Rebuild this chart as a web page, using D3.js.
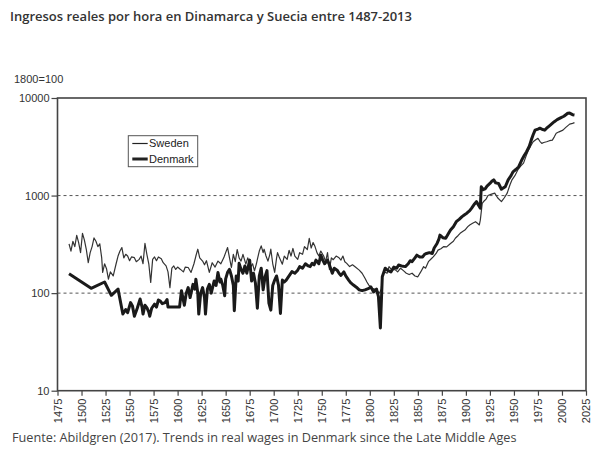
<!DOCTYPE html>
<html>
<head>
<meta charset="utf-8">
<script src="https://cdn.jsdelivr.net/npm/d3@7"></script>
<style>
  html, body { margin: 0; padding: 0; background: #fff; }
  svg { display: block; }
</style>
</head>
<body>
<svg id="chart" width="604" height="451"></svg>
<script>
// ---------- data ----------
const titleText = "Ingresos reales por hora en Dinamarca y Suecia entre 1487-2013";
const sourceText = "Fuente: Abildgren (2017). Trends in real wages in Denmark since the Late Middle Ages";
const unitLabel = "1800=100";
const seriesNames = ["Sweden", "Denmark"];
const yTicks = [10, 100, 1000, 10000];
const xTicks = [1475,1500,1525,1550,1575,1600,1625,1650,1675,1700,1725,1750,1775,1800,1825,1850,1875,1900,1925,1950,1975,2000,2025];

const swedenYears = [1487,1489,1491,1493,1495,1497,1499,1501,1503,1505,1507,1509,1511,1513,1515,1517,1519,1521,1522,1524,1526,1528,1530,1533,1536,1538,1540,1542,1544,1546,1548,1550,1552,1555,1557,1560,1562,1564,1566,1568,1570,1572,1574,1576,1578,1580,1583,1585,1588,1590,1592,1594,1596,1598,1600,1603,1606,1608,1611,1614,1617,1619,1621,1623,1626,1628,1630,1633,1636,1639,1642,1645,1648,1650,1652,1654,1656,1658,1660,1662,1664,1666,1668,1671,1673,1676,1678,1680,1682,1683,1685,1687,1689,1690,1692,1694,1696,1697,1699,1701,1703,1704,1706,1709,1711,1714,1716,1718,1720,1722,1725,1727,1730,1732,1735,1737,1739,1741,1743,1745,1747,1749,1752,1754,1756,1758,1760,1762,1765,1768,1770,1772,1774,1776,1779,1782,1785,1789,1792,1795,1797,1799,1802,1805,1808,1810,1812,1813,1815,1818,1820,1823,1826,1829,1832,1835,1838,1841,1844,1847,1850,1853,1856,1858,1861,1864,1866,1869,1871,1874,1877,1880,1884,1887,1889,1892,1894,1897,1899,1902,1904,1907,1910,1912,1914,1915,1917,1919,1921,1923,1926,1930,1933,1937,1940,1943,1946,1948,1951,1954,1957,1960,1963,1965,1968,1970,1973,1975,1977,1979,1981,1984,1987,1990,1992,1994,1997,2001,2004,2008,2011,2013];
const swedenValues = [320,270,340,300,390,330,260,410,350,280,205,260,300,368,340,300,320,230,163,200,178,139,165,150,200,240,270,293,230,250,240,215,235,231,210,222,240,200,323,250,200,129,222,235,215,235,225,205,190,165,114,180,190,175,185,175,165,185,183,163,200,240,282,230,213,195,215,163,205,185,213,200,230,260,293,230,183,250,210,280,230,213,250,198,230,185,200,169,200,222,270,305,260,282,240,213,250,282,200,163,230,260,230,198,240,222,275,240,287,240,222,260,250,300,280,365,290,330,300,260,240,270,240,210,260,175,230,220,240,230,218,240,210,202,187,195,185,172,160,142,130,121,112,110,105,100,110,150,165,160,187,172,175,165,180,170,160,155,160,150,147,165,187,180,210,225,235,255,276,285,300,298,323,340,365,390,410,430,443,480,500,520,540,520,500,560,830,880,920,1000,1030,1060,950,868,950,1060,1300,1450,1600,1830,2000,2150,2600,2900,3300,3560,3750,3860,3600,3430,3500,3560,3650,3700,4000,4350,4500,4680,5000,5400,5500,5600];

const denmarkYears = [1487,1510,1524,1531,1538,1543,1546,1548,1551,1553,1555,1558,1561,1563,1564,1566,1568,1570,1571,1573,1576,1578,1580,1582,1584,1587,1589,1590,1602,1604,1607,1609,1611,1613,1616,1618,1619,1621,1622,1624,1626,1628,1629,1631,1633,1635,1638,1640,1642,1644,1645,1647,1649,1650,1652,1654,1656,1658,1659,1661,1663,1664,1666,1668,1670,1672,1675,1677,1679,1681,1683,1685,1687,1689,1691,1693,1695,1697,1699,1701,1703,1705,1707,1709,1711,1713,1716,1719,1722,1725,1727,1730,1733,1736,1738,1740,1742,1744,1747,1749,1751,1753,1756,1758,1761,1763,1766,1768,1770,1773,1775,1778,1780,1783,1786,1789,1792,1795,1799,1801,1804,1807,1809,1811,1813,1816,1819,1822,1825,1828,1830,1833,1837,1840,1842,1844,1847,1849,1852,1855,1857,1859,1862,1865,1867,1870,1872,1873,1876,1879,1882,1884,1887,1890,1893,1896,1899,1901,1904,1906,1909,1911,1913,1915,1916,1918,1920,1922,1925,1927,1929,1931,1934,1937,1939,1941,1944,1947,1949,1952,1955,1958,1961,1963,1966,1968,1970,1972,1975,1977,1980,1982,1984,1986,1989,1992,1995,1999,2002,2006,2008,2011,2013];
const denmarkValues = [158,112,130,95,110,61,68,63,80,74,58,70,87,72,61,75,71,64,58,70,77,72,85,83,78,80,86,72,72,106,75,100,114,90,123,110,139,100,61,100,114,90,61,110,123,100,133,120,163,130,139,120,94,140,163,175,150,120,66,150,133,202,175,160,190,160,218,133,160,126,70,150,180,108,147,170,79,67,120,136,150,120,62,136,130,136,150,166,160,172,187,180,200,190,187,202,195,218,200,245,218,200,218,194,160,180,172,160,152,165,150,136,128,121,115,108,106,108,112,116,103,110,92,44,147,180,170,165,185,180,194,190,187,200,215,210,230,245,235,235,250,255,260,255,290,323,360,393,370,365,410,443,480,540,570,608,640,659,700,743,820,868,800,743,1232,1150,1170,1250,1330,1400,1450,1350,1330,1160,1200,1232,1450,1600,1750,1850,1975,2300,2600,2800,3200,3700,4200,4680,4800,4900,4750,4680,4900,5100,5400,5720,6000,6300,6500,6970,7000,6750,6700];

// ---------- layout ----------
const svg = d3.select("#chart");
const plot = { left: 57.5, right: 586, top: 98, bottom: 390.7 };

const x = d3.scaleLinear().domain([1475, 2025]).range([plot.left, plot.right]);
const y = d3.scaleLog().domain([10, 10000]).range([plot.bottom, plot.top]);

// title
svg.append("text")
  .attr("x", 10).attr("y", 21)
  .attr("font-family", "'Open Sans', sans-serif")
  .attr("font-weight", 600)
  .attr("font-size", 13)
  .attr("fill", "#333")
  .text(titleText);

// unit label
svg.append("text")
  .attr("x", 14).attr("y", 83)
  .attr("font-family", "'Liberation Sans', Arial, sans-serif")
  .attr("font-size", 11)
  .attr("fill", "#333")
  .text(unitLabel);

// dashed reference lines
svg.append("g").selectAll("line")
  .data([100, 1000])
  .join("line")
  .attr("x1", plot.left).attr("x2", plot.right)
  .attr("y1", d => y(d)).attr("y2", d => y(d))
  .attr("stroke", "#555")
  .attr("stroke-width", 1)
  .attr("stroke-dasharray", "3,3");

// series lines
const line = d3.line().x(d => x(d[0])).y(d => y(d[1]));
const sweden = swedenYears.map((yr, i) => [yr, swedenValues[i]]);
const denmark = denmarkYears.map((yr, i) => [yr, denmarkValues[i]]);

svg.append("path")
  .datum(sweden)
  .attr("d", line)
  .attr("fill", "none")
  .attr("stroke", "#333")
  .attr("stroke-width", 1.2)
  .attr("stroke-linejoin", "round");

svg.append("path")
  .datum(denmark)
  .attr("d", line)
  .attr("fill", "none")
  .attr("stroke", "#1a1a1a")
  .attr("stroke-width", 3)
  .attr("stroke-linejoin", "round");

// frame
svg.append("rect")
  .attr("x", plot.left).attr("y", plot.top)
  .attr("width", plot.right - plot.left)
  .attr("height", plot.bottom - plot.top)
  .attr("fill", "none")
  .attr("stroke", "#444")
  .attr("stroke-width", 1.6);

// axes
const yAxis = d3.axisLeft(y).tickValues(yTicks).tickFormat(d3.format("d")).tickSize(6).tickPadding(2);
const gy = svg.append("g").attr("transform", `translate(${plot.left},0)`).call(yAxis);
gy.select(".domain").remove();
gy.selectAll("line").attr("stroke", "#444").attr("stroke-width", 1.2);
gy.selectAll("text")
  .attr("font-family", "'Liberation Sans', Arial, sans-serif")
  .attr("font-size", 11).attr("fill", "#333");

const xAxis = d3.axisBottom(x).tickValues(xTicks).tickFormat(d3.format("d")).tickSize(5);
const gx = svg.append("g").attr("transform", `translate(0,${plot.bottom})`).call(xAxis);
gx.select(".domain").remove();
gx.selectAll("line").attr("stroke", "#444").attr("stroke-width", 1.2);
gx.selectAll("text")
  .attr("font-family", "'Liberation Sans', Arial, sans-serif")
  .attr("font-size", 11).attr("fill", "#333")
  .attr("transform", "rotate(-90)")
  .attr("text-anchor", "end")
  .attr("x", -8).attr("y", 0).attr("dy", "0.35em");

// legend
const lg = svg.append("g");
lg.append("rect")
  .attr("x", 128.3).attr("y", 135.7).attr("width", 69.4).attr("height", 31)
  .attr("fill", "#fff").attr("stroke", "#555").attr("stroke-width", 1);
const legendItems = [
  { name: seriesNames[0], w: 1.2, yy: 143.5 },
  { name: seriesNames[1], w: 3, yy: 159 }
];
legendItems.forEach(it => {
  lg.append("line")
    .attr("x1", 132.3).attr("x2", 147.7)
    .attr("y1", it.yy).attr("y2", it.yy)
    .attr("stroke", "#222").attr("stroke-width", it.w);
  lg.append("text")
    .attr("x", 149).attr("y", it.yy).attr("dy", "0.35em")
    .attr("font-family", "'Liberation Sans', Arial, sans-serif")
    .attr("font-size", 11).attr("fill", "#222")
    .text(it.name);
});

// source
svg.append("text")
  .attr("x", 12).attr("y", 442)
  .attr("font-family", "'Open Sans', sans-serif")
  .attr("font-size", 12.7)
  .attr("fill", "#444")
  .text(sourceText);
</script>
</body>
</html>
